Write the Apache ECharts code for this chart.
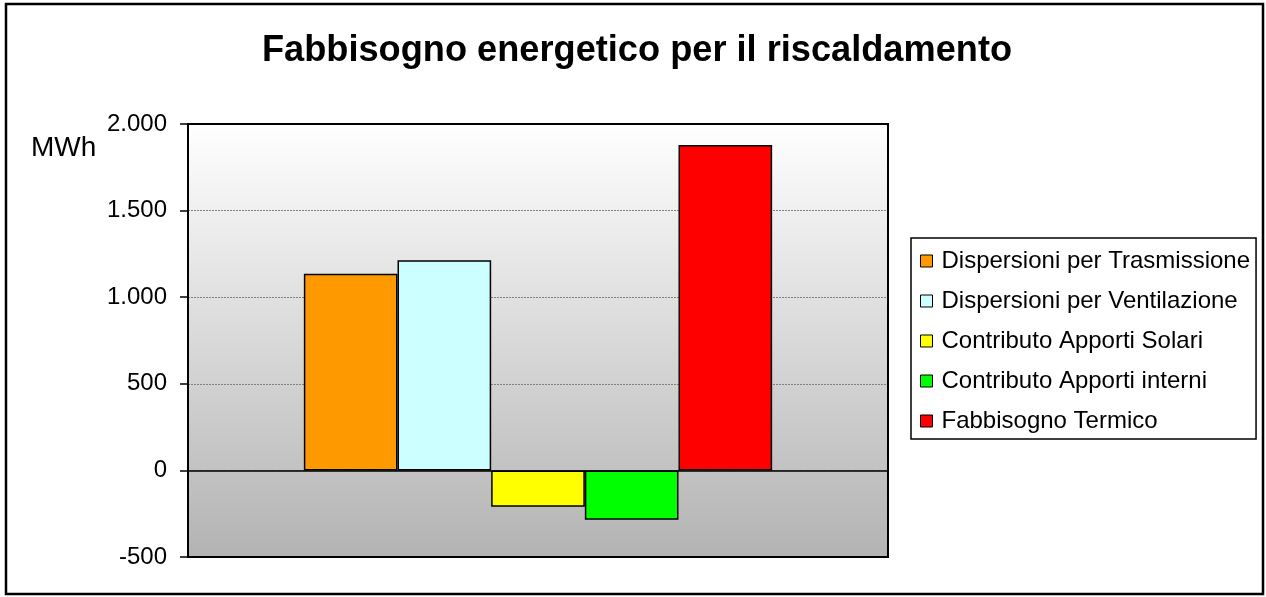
<!DOCTYPE html>
<html>
<head>
<meta charset="utf-8">
<script src="https://cdn.jsdelivr.net/npm/echarts@6/dist/echarts.min.js"></script>
<style>
html,body{margin:0;padding:0;background:#fff;}
#chart{width:1266px;height:597px;}
</style>
</head>
<body>
<div id="chart"></div>
<script>
var titleText = 'Fabbisogno energetico per il riscaldamento';
var unitLabel = 'MWh';
var categories = [''];
var seriesNames = [
  'Dispersioni per Trasmissione',
  'Dispersioni per Ventilazione',
  'Contributo Apporti Solari',
  'Contributo Apporti interni',
  'Fabbisogno Termico'
];
var seriesValues = [1136, 1213, -210, -285, 1879];
var seriesColors = ['#FF9900', '#CCFFFF', '#FFFF00', '#00FF00', '#FF0000'];
var yTicks = [-500, 0, 500, 1000, 1500, 2000];

function fmt(v) {
  var s = String(Math.abs(v)).replace(/\B(?=(\d{3})+(?!\d))/g, '.');
  return (v < 0 ? '-' : '') + s;
}

var chart = echarts.init(document.getElementById('chart'), null, {renderer: 'canvas'});

var series = seriesNames.map(function (name, i) {
  return {
    name: name,
    type: 'bar',
    data: [seriesValues[i]],
    barGap: '0%',
    barCategoryGap: '33.1%',
    itemStyle: {color: seriesColors[i], borderColor: '#000', borderWidth: 1.5},
    emphasis: {disabled: true}
  };
});

chart.setOption({
  animation: false,
  backgroundColor: '#fff',
  title: {
    text: titleText,
    left: 257,
    top: 28,
    textStyle: {fontFamily: 'Liberation Sans', fontWeight: 'bold', fontSize: 36.2, color: '#000'}
  },
  graphic: [
    {type: 'rect', shape: {x: 6, y: 4, width: 1257, height: 590}, style: {fill: null, stroke: '#000', lineWidth: 2.5}, silent: true, z: -10},
    {type: 'rect', shape: {x: 188, y: 124, width: 700, height: 433}, style: {fill: null, stroke: '#000', lineWidth: 2}, silent: true, z: 100},
    {type: 'text', x: 31, y: 148, style: {text: unitLabel, font: '28px "Liberation Sans"', fill: '#000', textVerticalAlign: 'middle', verticalAlign: 'middle'}}
  ],
  legend: {
    orient: 'vertical',
    left: 911,
    top: 238,
    width: 348,
    padding: [11, 6, 6, 9],
    itemGap: 16,
    itemWidth: 12,
    itemHeight: 12,
    icon: 'rect',
    borderColor: '#000',
    borderWidth: 1.5,
    backgroundColor: '#fff',
    selectedMode: false,
    itemStyle: {borderColor: '#000', borderWidth: 1},
    textStyle: {fontFamily: 'Liberation Sans', fontSize: 24, color: '#000', padding: [0, 0, 0, 4]},
    data: seriesNames
  },
  grid: {
    left: 188,
    top: 124,
    width: 700,
    height: 433,
    show: true,
    borderColor: '#000',
    borderWidth: 2,
    backgroundColor: new echarts.graphic.LinearGradient(0, 0, 0, 1, [
      {offset: 0, color: '#ffffff'},
      {offset: 1, color: '#b3b3b3'}
    ]),
    containLabel: false
  },
  xAxis: {
    type: 'category',
    data: categories,
    axisLine: {show: true, onZero: true, lineStyle: {color: '#000', width: 1.5}},
    axisTick: {show: false},
    axisLabel: {show: false},
    splitLine: {show: false}
  },
  yAxis: {
    type: 'value',
    min: yTicks[0],
    max: yTicks[yTicks.length - 1],
    interval: 500,
    axisLine: {show: true, lineStyle: {color: '#000', width: 2}},
    axisTick: {show: true, length: 8, lineStyle: {color: '#000', width: 1.5}},
    axisLabel: {
      margin: 21,
      fontFamily: 'Liberation Sans',
      fontSize: 24,
      color: '#000',
      formatter: function (v) { return fmt(v); }
    },
    splitLine: {
      show: true,
      lineStyle: {color: '#808080', width: 1, type: [2, 1]}
    }
  },
  series: series
});
</script>
</body>
</html>
